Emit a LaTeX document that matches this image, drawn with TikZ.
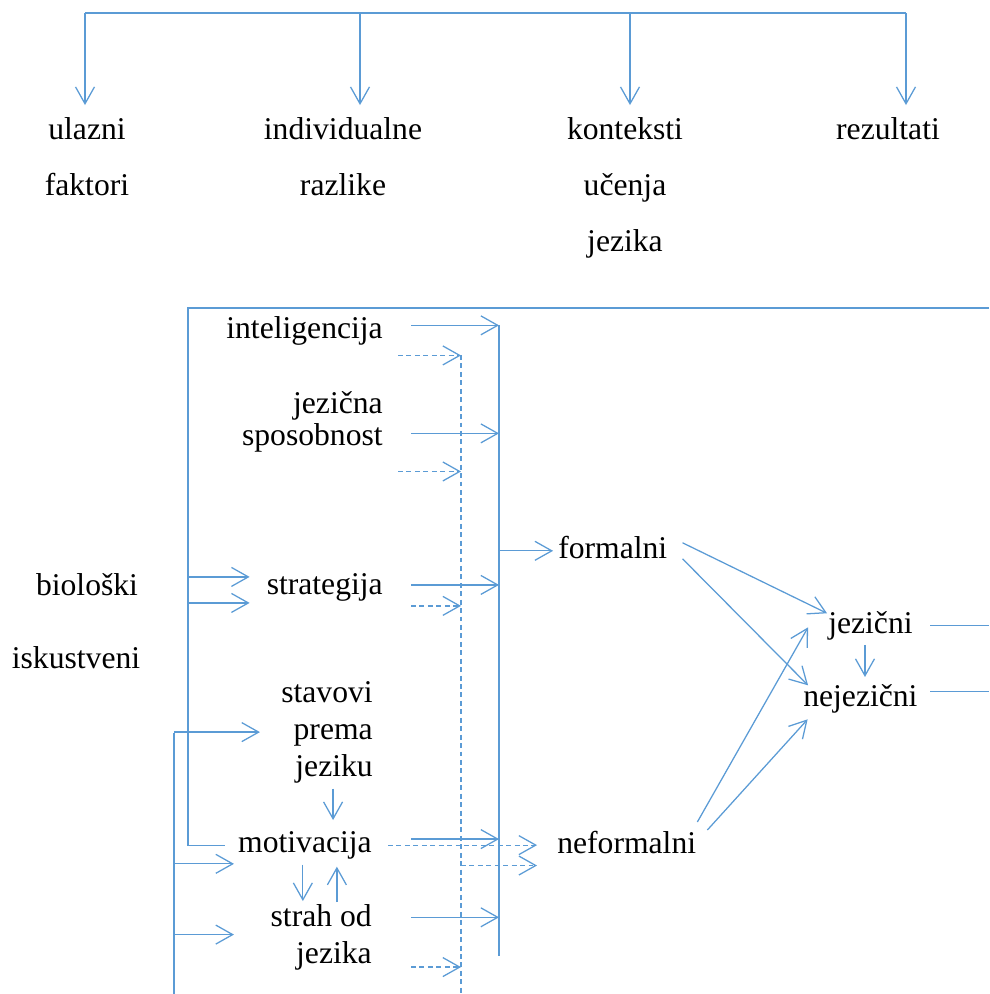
\documentclass[tikz,border=0pt]{standalone}
\usepackage{fontspec}
\setmainfont{Liberation Serif}
\usetikzlibrary{arrows.meta}
\definecolor{lineblue}{RGB}{91,155,213}
\tikzset{
  line/.style={draw=lineblue, line width=0.9pt},
  arrow/.style={line, -{Straight Barb[length=12pt, width=13.5pt]}},
  dashline/.style={line, dash pattern=on 3.5pt off 2.5pt},
  dasharrow/.style={arrow, dash pattern=on 3.5pt off 2.5pt},
}

\begin{document}
\begin{tikzpicture}[x=0.025cm, y=-0.025cm,
    head/.style={inner sep=0pt, align=center, font=\fontsize{22.5}{39.8}\selectfont},
    factor/.style={inner sep=0pt, align=right, font=\fontsize{22.5}{26.3}\selectfont},
    ]
    \useasboundingbox (0,0) rectangle (989,994);

    % top headings
    \node[head, anchor=north] (ulazni) at (87,117) {ulazni\\faktori};
    \node[head, anchor=north] (razlike) at (343,117) {individualne\\razlike};
    \node[head, anchor=north] (konteksti) at (625,117) {konteksti\\učenja\\jezika};
    \node[head, anchor=north] (rezultati) at (888,117) {rezultati};

    \coordinate (t1) at (85,13);
    \coordinate (t2) at (360,13);
    \coordinate (t3) at (630,13);
    \coordinate (t4) at (906,13);
    \draw[line] (t1) -- (t4);
    \foreach \t/\n in {t1/ulazni, t2/razlike, t3/konteksti, t4/rezultati}
        \draw[arrow] (\t) -- ([yshift=8.5pt]\t |- \n.north);

    % factors
    \node[factor, anchor=north] (bio) at (87,573) {biološki};
    \node[factor, anchor=north] (isk) at (76,646) {iskustveni};
    \node[factor, anchor=north east] (intel) at (383,316) {inteligencija};
    \node[factor, anchor=north east, font=\fontsize{22.5}{22.8}\selectfont] (jezsp) at (383,391) {jezična\\sposobnost};
    \node[factor, anchor=north east] (strat) at (383,573) {strategija};
    \node[factor, anchor=north east] (stav) at (373,681) {stavovi\\prema\\jeziku};
    \node[factor, anchor=north east] (motiv) at (372,831) {motivacija};
    \node[factor, anchor=north east] (strah) at (372,904) {strah od\\jezika};

    % contexts and outcomes
    \node[factor, anchor=north west] (form) at (558,536) {formalni};
    \node[factor, anchor=north west] (neform) at (557,831) {neformalni};
    \node[factor, anchor=north west] (jez) at (828,611) {jezični};
    \node[factor, anchor=north west] (nejez) at (803,684) {nejezični};

    % bus lines
    \coordinate (frameR) at (989,308);
    \coordinate (busL) at (188,308);
    \coordinate (busL2) at (174,733);
    \coordinate (busL2end) at (174,994);
    \coordinate (busS) at (499,325);
    \coordinate (busSend) at (499,956);
    \coordinate (busD) at (461,355);
    \coordinate (busDend) at (461,994);
    \coordinate (outS) at (411,0);
    \coordinate (outD) at (398,0);
    \coordinate (inTip) at ([xshift=-2.8pt]motiv.west);

    \draw[line] (frameR) -- (busL) -- (busL |- motiv.west) -- ([xshift=-9.2pt]motiv.west);
    \draw[line] (busL2) -- (busL2end);
    \draw[line] (busS) -- (busSend);
    \draw[dashline] (busD) -- (busDend);

    % inputs
    \draw[arrow] ([yshift=7.3pt]strat.west -| busL) -- ([xshift=-12pt, yshift=7.3pt]strat.west);
    \draw[arrow] ([yshift=-11.2pt]strat.west -| busL) -- ([xshift=-12pt, yshift=-11.2pt]strat.west);
    \draw[arrow] (stav.west -| busL2) -- ([xshift=-15pt]stav.west);
    \draw[arrow] ([yshift=-13.3pt]motiv.west -| busL2) -- ([yshift=-13.3pt]inTip);
    \draw[arrow] ([yshift=1.8pt]strah.west -| busL2) -- ([yshift=1.8pt]inTip |- strah.west);

    % outputs to the buses
    \draw[arrow] ([yshift=3.8pt]intel.east -| outS) -- ([yshift=3.8pt]intel.east -| busS);
    \draw[dasharrow] ([yshift=-17.6pt]intel.east -| outD) -- ([yshift=-17.6pt]intel.east -| busD);
    \draw[arrow] ([yshift=-8.3pt]jezsp.east -| outS) -- ([yshift=-8.3pt]jezsp.east -| busS);
    \draw[dasharrow] ([yshift=-35.4pt]jezsp.east -| outD) -- ([yshift=-35.4pt]jezsp.east -| busD);
    \draw[arrow] ([yshift=1.6pt]strat.east -| outS) -- ([yshift=1.6pt]strat.east -| busS);
    \draw[dasharrow] ([yshift=-13.3pt]strat.east -| outS) -- ([yshift=-13.3pt]strat.east -| busD);
    \draw[arrow] ([yshift=4.3pt]motiv.east -| outS) -- ([yshift=4.3pt]motiv.east -| busS);
    \draw[arrow] ([yshift=14.1pt]strah.east -| outS) -- ([yshift=14.1pt]strah.east -| busS);
    \draw[dasharrow] ([yshift=-21.3pt]strah.east -| outS) -- ([yshift=-21.3pt]strah.east -| busD);

    % between factors
    \draw[arrow, shorten <=3.9pt, shorten >=7.8pt] ([xshift=4.3pt]stav.south) -- ([xshift=4.3pt]stav.south |- motiv.north);
    \draw[arrow, shorten <=3.9pt, shorten >=2.1pt] ([xshift=46.2pt]motiv.south west) -- ([xshift=46.2pt]motiv.south west |- strah.north);
    \draw[arrow, shorten <=1.4pt, shorten >=5.3pt] ([xshift=70.4pt]motiv.south west |- strah.north) -- ([xshift=70.4pt]motiv.south west);

    % contexts
    \draw[arrow] ([yshift=-2.3pt]form.west -| busS) -- ([xshift=-3.5pt, yshift=-2.3pt]form.west);
    \draw[dasharrow] ([xshift=11.4pt]motiv.east) -- ([xshift=-14.2pt]motiv.east -| neform.west);
    \draw[dasharrow] ([yshift=-14.5pt]motiv.east -| busD) -- ([xshift=-14.2pt, yshift=-14.5pt]motiv.east -| neform.west);

    % outcomes
    \draw[arrow] ([xshift=10.7pt, yshift=3.4pt]form.east) -- ([xshift=-0.7pt, yshift=8.8pt]jez.west);
    \draw[arrow] ([xshift=10.7pt, yshift=-8pt]form.east) -- ([xshift=3.6pt, yshift=9.5pt]nejez.west);
    \draw[arrow] ([xshift=0.7pt, yshift=6.4pt]neform.north east) -- ([xshift=-14.2pt, yshift=-1.2pt]jez.west);
    \draw[arrow] ([xshift=7.8pt, yshift=0.7pt]neform.north east) -- ([xshift=3.3pt, yshift=-14.7pt]nejez.west);
    \draw[arrow, shorten <=3.2pt, shorten >=5pt] ([xshift=26.3pt]jez.south west) -- ([xshift=26.3pt]jez.south west |- nejez.north);
    \draw[line] ([xshift=12.4pt]jez.east) -- (jez.east -| frameR);
    \draw[line] ([xshift=9pt, yshift=5.2pt]nejez.east) -- ([yshift=5.2pt]nejez.east -| frameR);
\end{tikzpicture}
\end{document}
